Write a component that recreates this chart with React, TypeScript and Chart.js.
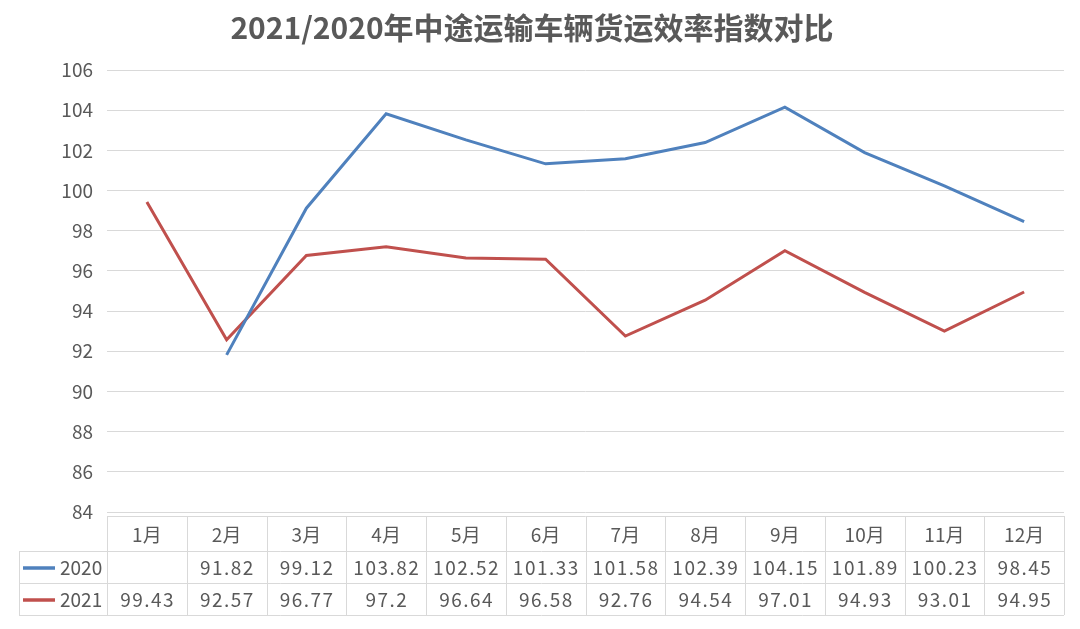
import React, { useEffect, useRef } from 'react';
import { Chart, registerables } from 'chart.js';

Chart.register(...registerables);

const TITLE = '2021/2020年中途运输车辆货运效率指数对比';
const MONTHS = ['1月', '2月', '3月', '4月', '5月', '6月', '7月', '8月', '9月', '10月', '11月', '12月'];
const SERIES_NAMES = ['2020', '2021'];
const VALUES_2020: (number | null)[] = [null, 91.82, 99.12, 103.82, 102.52, 101.33, 101.58, 102.39, 104.15, 101.89, 100.23, 98.45];
const VALUES_2021: (number | null)[] = [99.43, 92.57, 96.77, 97.2, 96.64, 96.58, 92.76, 94.54, 97.01, 94.93, 93.01, 94.95];
const Y_MIN = 84;
const Y_MAX = 106;
const Y_STEP = 2;
const COLORS = ['#4F81BD', '#C0504D'];

const FONT = '"Noto Sans CJK SC", "Noto Sans", sans-serif';
const TEXT_COLOR = '#595959';
const GRID_COLOR = '#D9D9D9';

const tablePlugin = {
  id: 'dataTable',
  afterDraw(chart: any) {
    const { ctx, chartArea, scales } = chart;
    const xs = scales.x;
    const left = Math.round(chartArea.left);
    const right = Math.round(chartArea.right);
    const colW = (right - left) / MONTHS.length;
    const tableLeft = 19;
    const top = Math.round(chartArea.bottom) + 4;
    const rows = [top, top + 35, top + 67, top + 99];
    const series = [VALUES_2020, VALUES_2021];

    ctx.save();
    ctx.strokeStyle = GRID_COLOR;
    ctx.lineWidth = 1;
    ctx.beginPath();
    ctx.moveTo(left, rows[0] + 0.5);
    ctx.lineTo(right, rows[0] + 0.5);
    for (let r = 1; r < rows.length; r++) {
      ctx.moveTo(tableLeft, rows[r] + 0.5);
      ctx.lineTo(right, rows[r] + 0.5);
    }
    ctx.moveTo(tableLeft + 0.5, rows[1]);
    ctx.lineTo(tableLeft + 0.5, rows[3]);
    for (let i = 0; i <= MONTHS.length; i++) {
      const x = Math.round(left + i * colW) + 0.5;
      ctx.moveTo(x, rows[0]);
      ctx.lineTo(x, rows[3]);
    }
    ctx.stroke();

    ctx.fillStyle = TEXT_COLOR;
    ctx.textBaseline = 'middle';
    ctx.textAlign = 'center';
    ctx.font = `19px ${FONT}`;
    MONTHS.forEach((m, i) => {
      const cx = xs.getPixelForValue(i);
      ctx.fillText(m, cx, (rows[0] + rows[1]) / 2 + 1);
    });

    series.forEach((vals, s) => {
      const cy = (rows[s + 1] + rows[s + 2]) / 2 + 1;
      ctx.strokeStyle = COLORS[s];
      ctx.lineWidth = 3.5;
      ctx.beginPath();
      ctx.moveTo(23, cy);
      ctx.lineTo(55, cy);
      ctx.stroke();
      ctx.textAlign = 'left';
      ctx.font = `19px ${FONT}`;
      (ctx as any).letterSpacing = '0px';
      ctx.fillText(SERIES_NAMES[s], 60, cy);
      ctx.textAlign = 'center';
      (ctx as any).letterSpacing = '1.5px';
      vals.forEach((v, i) => {
        if (v === null) return;
        const cx = xs.getPixelForValue(i);
        ctx.fillText(String(v), cx + 0.75, cy);
      });
      (ctx as any).letterSpacing = '0px';
    });
    ctx.restore();
  },
};

export default function App() {
  const ref = useRef<HTMLCanvasElement | null>(null);

  useEffect(() => {
    document.body.style.margin = '0';
    const canvas = ref.current;
    if (!canvas) return;
    const chart = new Chart(canvas, {
      type: 'line',
      data: {
        labels: MONTHS,
        datasets: [
          {
            label: SERIES_NAMES[0],
            data: VALUES_2020,
            borderColor: COLORS[0],
            backgroundColor: COLORS[0],
            borderWidth: 3,
            pointRadius: 0,
            tension: 0,
            spanGaps: false,
          },
          {
            label: SERIES_NAMES[1],
            data: VALUES_2021,
            borderColor: COLORS[1],
            backgroundColor: COLORS[1],
            borderWidth: 3,
            pointRadius: 0,
            tension: 0,
          },
        ],
      },
      options: {
        responsive: false,
        animation: false,
        layout: { padding: { left: 0, right: 16, top: 0, bottom: 117 } },
        plugins: {
          legend: { display: false },
          tooltip: { enabled: false },
          title: {
            display: true,
            text: TITLE,
            color: TEXT_COLOR,
            font: { family: FONT, size: 30, weight: 'bold' },
            padding: { top: 10, bottom: 24 },
          },
        },
        scales: {
          x: {
            type: 'category',
            display: false,
            offset: true,
          },
          y: {
            min: Y_MIN,
            max: Y_MAX,
            border: { display: false },
            grid: { color: GRID_COLOR, lineWidth: 1, drawTicks: false },
            ticks: {
              stepSize: Y_STEP,
              padding: 14,
              color: TEXT_COLOR,
              font: { family: FONT, size: 19 },
            },
            afterFit: (s: any) => {
              s.width = 107;
            },
          },
        },
      },
      plugins: [tablePlugin],
    });
    return () => chart.destroy();
  }, []);

  return (
    <div style={{ position: 'relative', width: 1080, height: 629, background: '#fff' }}>
      <canvas ref={ref} width={1080} height={629} style={{ display: 'block' }} />
    </div>
  );
}
